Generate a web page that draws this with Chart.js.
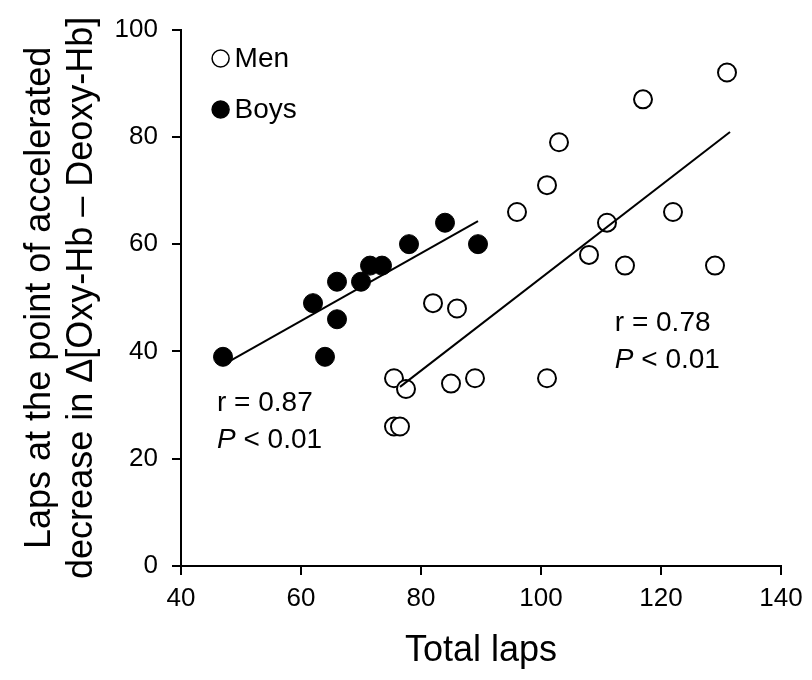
<!DOCTYPE html>
<html>
<head>
<meta charset="utf-8">
<script src="https://cdn.jsdelivr.net/npm/chart.js@4"></script>
<style>
  body { margin: 0; background: #fff; }
  #wrap { width: 812px; height: 680px; }
</style>
</head>
<body>
<div id="wrap"><canvas id="chart" width="812" height="680"></canvas></div>
<script>
// --- Data ---
const menX  = [75.5, 77.5, 75.5, 76.5, 82, 86, 85, 89, 96, 101, 101, 103, 108, 111, 114, 117, 122, 129, 131];
const menY  = [35, 33, 26, 26, 49, 48, 34, 35, 66, 71, 35, 79, 58, 64, 56, 87, 66, 56, 92];
const boysX = [47, 62, 64, 66, 66, 70, 71.5, 73.5, 78, 84, 89.5];
const boysY = [39, 49, 39, 53, 46, 53, 56, 56, 60, 64, 60];

// regression line end points
const menFitX  = [76.5, 131.5];
const menFitY  = [33.4, 80.9];
const boysFitX = [47, 89.5];
const boysFitY = [37.5, 64.3];

const xTicks = [40, 60, 80, 100, 120, 140];
const yTicks = [0, 20, 40, 60, 80, 100];

const FONT = "'Liberation Sans', Arial, sans-serif";
const toPoints = (xs, ys) => xs.map((x, i) => ({ x, y: ys[i] }));

// legend + r / P text, placed in data units
const legendItems = [
  { label: 'Men',  fill: '#fff', x: 46.6, y: 94.6 },
  { label: 'Boys', fill: '#000', x: 46.6, y: 85.1 }
];
const statNotes = [
  { r: 'r = 0.87', x: 46,    y: 28.9, y2: 22.0 },
  { r: 'r = 0.78', x: 112.3, y: 43.8, y2: 36.9 }
];

const textPlugin = {
  id: 'textPlugin',
  afterDatasetsDraw(chart) {
    const { ctx, scales: { x, y } } = chart;
    ctx.save();
    ctx.fillStyle = '#000';
    ctx.strokeStyle = '#000';

    // legend
    ctx.font = `28px ${FONT}`;
    ctx.textBaseline = 'middle';
    ctx.textAlign = 'left';
    legendItems.forEach(item => {
      const cx = x.getPixelForValue(item.x);
      const cy = y.getPixelForValue(item.y);
      ctx.beginPath();
      ctx.arc(cx, cy, 8.5, 0, Math.PI * 2);
      ctx.fillStyle = item.fill;
      ctx.fill();
      ctx.lineWidth = 1.5;
      ctx.stroke();
      ctx.fillStyle = '#000';
      ctx.fillText(item.label, cx + 14, cy + 1);
    });

    // r and P values
    ctx.textBaseline = 'alphabetic';
    statNotes.forEach(n => {
      const px = x.getPixelForValue(n.x);
      ctx.font = `28px ${FONT}`;
      ctx.fillText(n.r, px, y.getPixelForValue(n.y));
      const py = y.getPixelForValue(n.y2);
      ctx.font = `italic 28px ${FONT}`;
      ctx.fillText('P', px, py);
      const w = ctx.measureText('P').width;
      ctx.font = `28px ${FONT}`;
      ctx.fillText(' < 0.01', px + w, py);
    });
    ctx.restore();
  }
};

const axisBase = {
  type: 'linear',
  border: { display: true, color: '#000', width: 2 },
  grid: { display: true, drawOnChartArea: false, drawTicks: true, tickLength: 9, color: '#000', lineWidth: 2 }
};

new Chart(document.getElementById('chart'), {
  data: {
    datasets: [
      {
        type: 'line', label: 'Men fit', order: 0,
        data: toPoints(menFitX, menFitY),
        borderColor: '#000', borderWidth: 2, pointRadius: 0, fill: false
      },
      {
        type: 'line', label: 'Boys fit', order: 0,
        data: toPoints(boysFitX, boysFitY),
        borderColor: '#000', borderWidth: 2, pointRadius: 0, fill: false
      },
      {
        type: 'scatter', label: 'Men', order: 1,
        data: toPoints(menX, menY),
        pointRadius: 9, pointBackgroundColor: '#fff', pointBorderColor: '#000', pointBorderWidth: 2
      },
      {
        type: 'scatter', label: 'Boys', order: 2,
        data: toPoints(boysX, boysY),
        pointRadius: 9.5, pointBackgroundColor: '#000', pointBorderColor: '#000', pointBorderWidth: 1
      }
    ]
  },
  options: {
    responsive: false,
    animation: false,
    events: [],
    layout: { padding: { top: 28, right: 31, left: 0, bottom: 0 } },
    plugins: { legend: { display: false }, tooltip: { enabled: false } },
    scales: {
      x: {
        ...axisBase,
        position: 'bottom',
        min: 40, max: 140,
        afterBuildTicks: s => { s.ticks = xTicks.map(v => ({ value: v })); },
        afterFit: s => { s.height = 114; },
        ticks: { color: '#000', padding: 8, font: { family: FONT, size: 26 } },
        title: {
          display: true, text: 'Total laps', color: '#000',
          font: { family: FONT, size: 36 }, padding: { top: 0, bottom: 7 }
        }
      },
      y: {
        ...axisBase,
        position: 'left',
        min: 0, max: 100,
        afterBuildTicks: s => { s.ticks = yTicks.map(v => ({ value: v })); },
        afterFit: s => { s.width = 181; },
        ticks: { color: '#000', padding: 14, font: { family: FONT, size: 26 } },
        title: {
          display: true,
          text: ['Laps at the point of accelerated', 'decrease in \u0394[Oxy-Hb \u2013 Deoxy-Hb]'],
          color: '#000',
          font: { family: FONT, size: 36, lineHeight: 1.17 },
          padding: { top: 19, bottom: 0 }
        }
      }
    }
  },
  plugins: [textPlugin]
});
</script>
</body>
</html>
